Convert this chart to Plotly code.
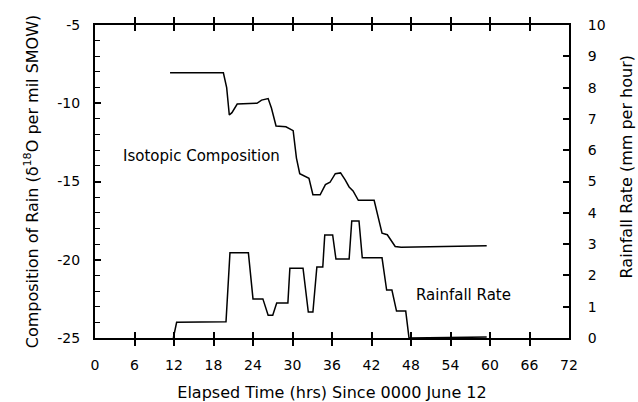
import plotly.graph_objects as go

# Isotopic composition of rain (left axis, delta-18O per mil SMOW)
iso_hours = [11.4, 19.5, 20.0, 20.4, 20.8, 21.6, 24.6, 25.3, 26.3, 26.8, 27.5, 29.0, 30.1,
             30.6, 31.1, 32.5, 33.1, 34.2, 35.0, 35.7, 36.5, 37.3, 38.0, 38.6, 39.2, 40.0,
             42.4, 43.6, 44.4, 45.6, 46.5, 59.5]
iso_values = [-8.05, -8.05, -9.0, -10.75, -10.6, -10.05, -10.0, -9.8, -9.7, -10.3, -11.45, -11.5, -11.75,
              -13.5, -14.5, -14.8, -15.85, -15.85, -15.2, -15.05, -14.5, -14.45, -14.9, -15.35, -15.6, -16.2,
              -16.2, -18.3, -18.4, -19.15, -19.2, -19.1]

# Rainfall rate (right axis, mm per hour)
rain_hours = [11.9, 12.4, 19.9, 20.5, 23.3, 24.0, 25.5, 26.3, 27.0, 27.6, 29.3, 29.6, 31.6,
              32.4, 33.1, 33.7, 34.6, 34.9, 36.1, 36.6, 38.6, 39.0, 40.1, 40.6, 43.6, 44.3,
              45.1, 45.8, 47.2, 47.7, 59.5]
rain_values = [0.0, 0.5, 0.52, 2.72, 2.72, 1.25, 1.25, 0.73, 0.73, 1.12, 1.12, 2.23, 2.23,
               0.83, 0.83, 2.27, 2.27, 3.29, 3.29, 2.52, 2.52, 3.74, 3.74, 2.56, 2.56, 1.53,
               1.53, 0.86, 0.86, 0.0, 0.03]

x_ticks = [0, 6, 12, 18, 24, 30, 36, 42, 48, 54, 60, 66, 72]
iso_ticks = [-25, -20, -15, -10, -5]
iso_tick_labels = ["-25", "-20", "-15", "-10", "-5"]
rain_ticks = [0, 1, 2, 3, 4, 5, 6, 7, 8, 9, 10]

FONT = "DejaVu Sans"

fig = go.Figure()
fig.add_trace(go.Scatter(x=iso_hours, y=iso_values, mode="lines",
                         line=dict(color="black", width=1.5), cliponaxis=False,
                         name="Isotopic Composition", yaxis="y"))
fig.add_trace(go.Scatter(x=rain_hours, y=rain_values, mode="lines",
                         line=dict(color="black", width=1.5), cliponaxis=False,
                         name="Rainfall Rate", yaxis="y2"))

fig.add_annotation(x=16.25, y=-13.37, xref="x", yref="y", text="Isotopic Composition",
                   showarrow=False, font=dict(family=FONT, size=15, color="black"))
fig.add_annotation(x=56.0, y=1.37, xref="x", yref="y2", text="Rainfall Rate",
                   showarrow=False, font=dict(family=FONT, size=15, color="black"))
# right axis title (sits a little above the axis centre in the original)
fig.add_annotation(x=1, xref="paper", y=5.45, yref="y2", xanchor="center", yanchor="middle",
                   xshift=57, textangle=-90, text="Rainfall Rate (mm per hour)",
                   showarrow=False, font=dict(family=FONT, size=16, color="black"))

fig.update_layout(
    template="none",
    width=638, height=402,
    margin=dict(l=95, r=69, t=25, b=64),
    paper_bgcolor="white", plot_bgcolor="white",
    showlegend=False,
    font=dict(family=FONT, size=14, color="black"),
    xaxis=dict(range=[0, 72], tickvals=x_ticks, ticks="inside", ticklen=6, tickwidth=1.5,
               tickcolor="black",
               showline=True, linecolor="black", linewidth=2, mirror="allticks",
               showgrid=False, zeroline=False, ticklabelstandoff=13, automargin=False,
               tickfont=dict(family=FONT, size=14),
               title=dict(text="Elapsed Time (hrs) Since 0000 June 12",
                          font=dict(family=FONT, size=16), standoff=18)),
    yaxis=dict(range=[-25, -5], tickvals=iso_ticks, ticktext=iso_tick_labels,
               ticks="inside", ticklen=6, tickwidth=1.5, tickcolor="black",
               minor=dict(tickmode="linear", tick0=-25, dtick=1, ticks="inside", ticklen=5,
                          tickwidth=1.2, tickcolor="black"),
               showline=True, linecolor="black", linewidth=2, automargin=False,
               showgrid=False, zeroline=False, ticklabelstandoff=10,
               tickfont=dict(family=FONT, size=14),
               title=dict(text="Composition of Rain (δ<sup>18</sup>O per mil SMOW)",
                          font=dict(family=FONT, size=16), standoff=15)),
    yaxis2=dict(range=[0, 10], tickvals=rain_ticks, overlaying="y", side="right", ticks="inside",
                ticklen=6, tickwidth=1.5, tickcolor="black", showline=True, linecolor="black",
                linewidth=2, automargin=False,
                showgrid=False, zeroline=False, ticklabelstandoff=14,
                tickfont=dict(family=FONT, size=14)),
)

# remove the browser's default 8px page margin so the 638x402 figure fills the window
fig.write_html("out.html", config={"displayModeBar": False},
               post_script="document.body.style.margin='0';document.body.style.overflow='hidden';")
